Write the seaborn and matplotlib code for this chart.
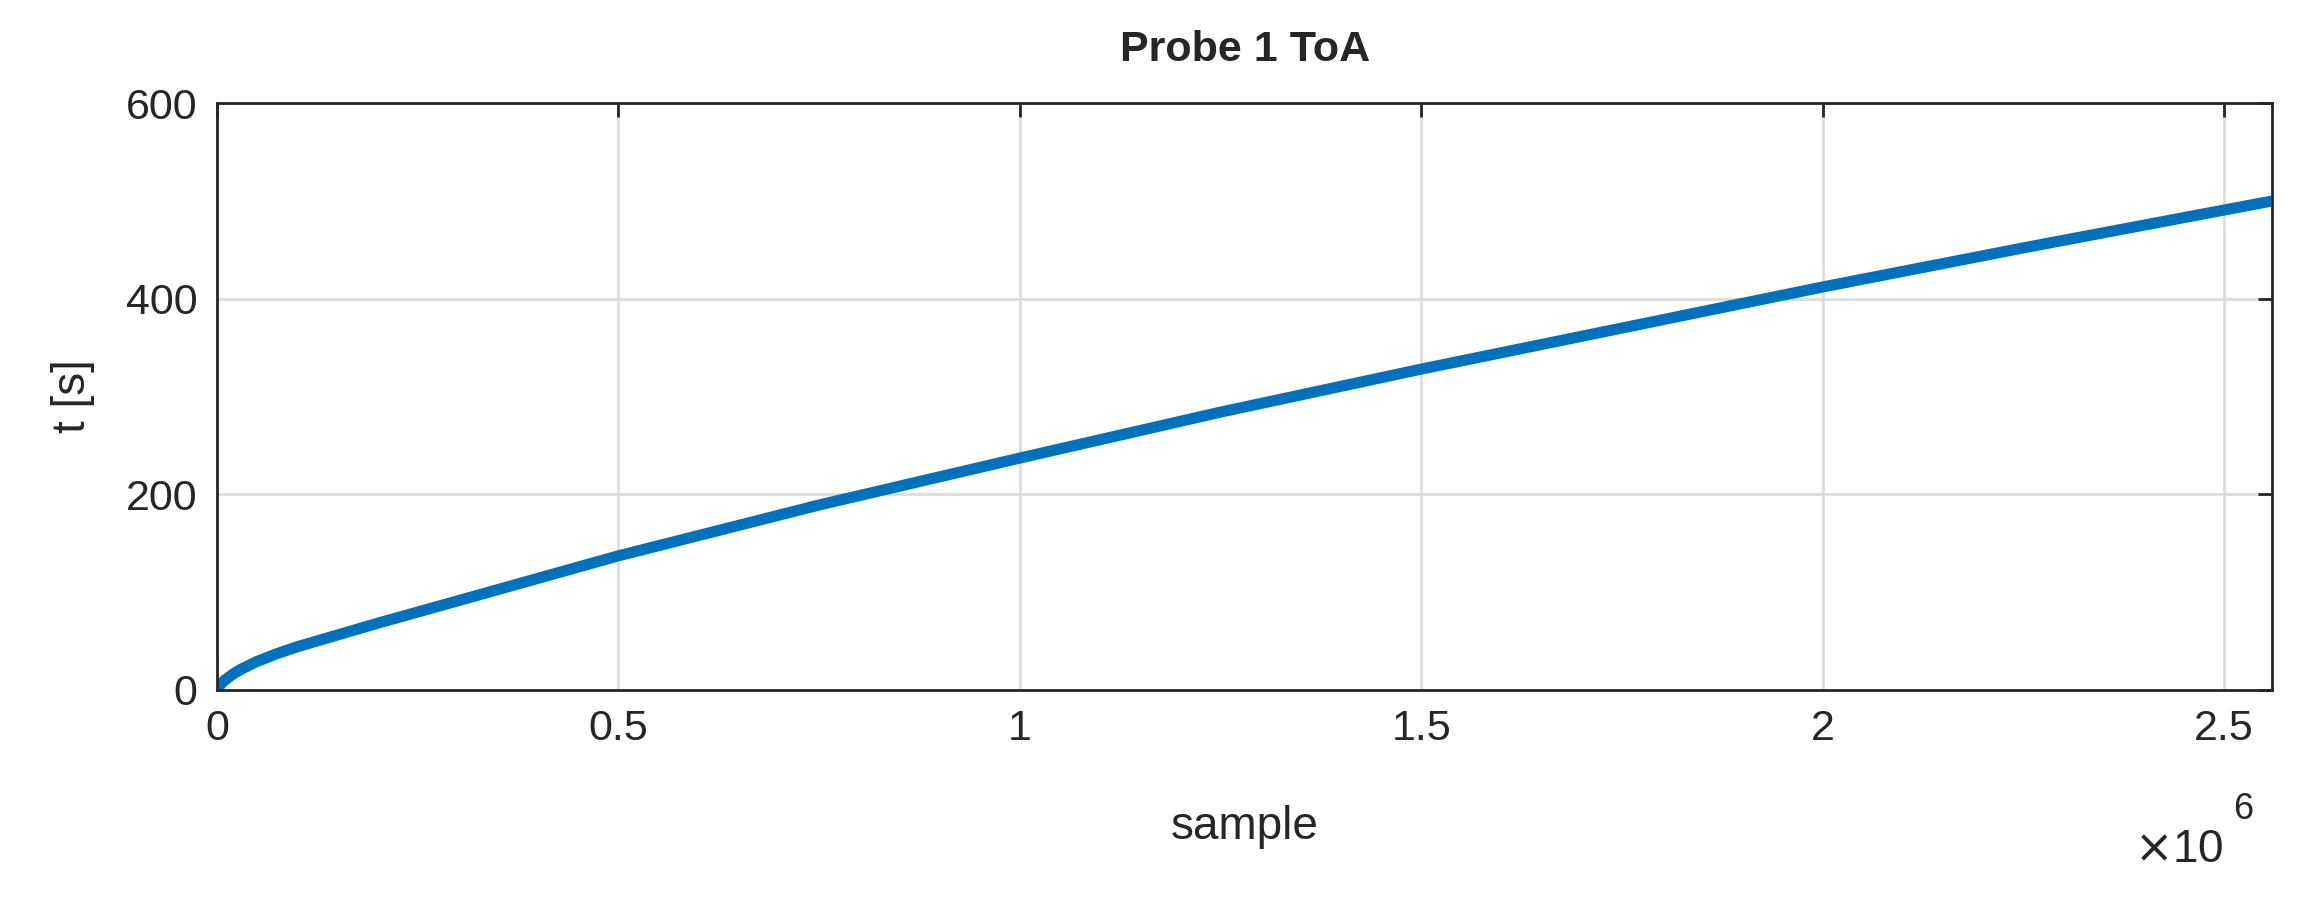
import matplotlib
matplotlib.use("Agg")
import matplotlib.pyplot as plt
import seaborn as sns
import pandas as pd

sample = [0, 5e3, 1e4, 2e4, 3e4, 5e4, 7.5e4, 1e5, 2e5, 3e5, 5e5, 7.5e5, 1e6, 1.25e6, 1.5e6, 1.75e6, 2e6, 2.25e6, 2.56e6]
t = [0, 6, 10, 16, 21, 29, 37, 44, 68, 91, 137, 189, 237, 284, 328, 370, 412, 452, 500]

sns.set_theme(style="white")
plt.rcParams['font.family'] = ['Liberation Sans', 'DejaVu Sans']

fig = plt.figure(figsize=(23.07, 8.97), dpi=100)
ax = fig.add_axes([0.094, 0.231, 0.891, 0.654])
df = pd.DataFrame({"sample": sample, "t": t})
sns.lineplot(data=df, x="sample", y="t", ax=ax, color="#0072BD", linewidth=8)
ax.set_xlim(0, 2.56e6)
ax.set_ylim(0, 600)
ax.set_xticks([0, 0.5e6, 1e6, 1.5e6, 2e6, 2.5e6])
ax.set_xticklabels(["0", "0.5", "1", "1.5", "2", "2.5"])
ax.set_yticks([0, 200, 400, 600])
ax.grid(True, color="#DDDDDD", linewidth=2)
for s in ax.spines.values():
    s.set_color("#262626"); s.set_linewidth(2)
ax.tick_params(labelsize=31, colors="#262626", direction="in", length=10, width=2, top=True, right=True, pad=14)
ax.set_xlabel("sample", fontsize=33, color="#262626", labelpad=40)
ax.set_ylabel("t [s]", fontsize=33, color="#262626", labelpad=22)
ax.set_title("Probe 1 ToA", fontsize=31, fontweight="bold", pad=30)
fig.text(0.925, 0.052, r"$\times$10", fontsize=33, color="#262626", va="center")
fig.text(0.968, 0.097, "6", fontsize=26, color="#262626", va="center")
fig.savefig("out.png", dpi=100)
